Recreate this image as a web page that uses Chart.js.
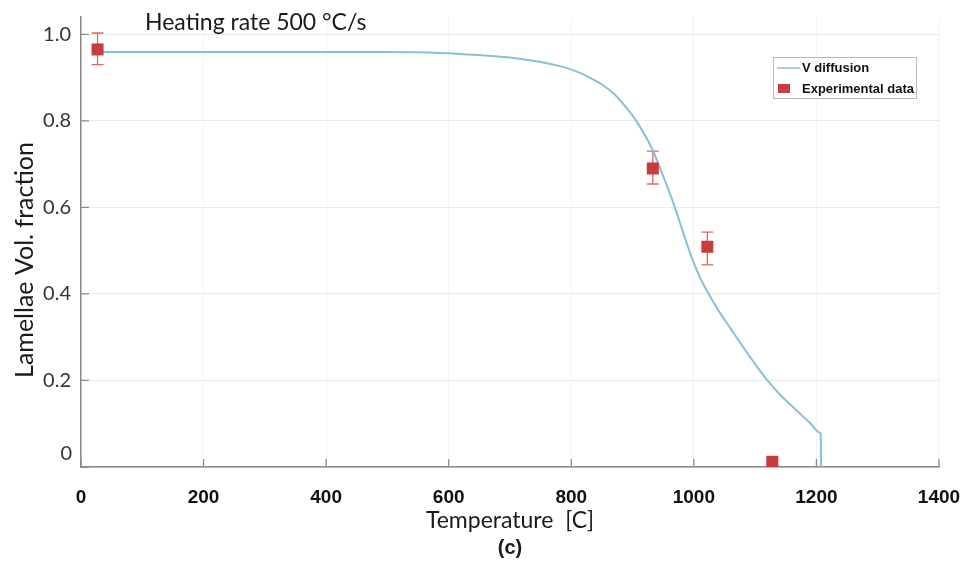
<!DOCTYPE html>
<html>
<head>
<meta charset="UTF-8">
<title>Lamellae Vol. fraction</title>
<script src="https://cdn.jsdelivr.net/npm/chart.js@4.4.1/dist/chart.umd.min.js"></script>
<style>
  html, body { margin: 0; padding: 0; background: #fff; }
  #wrap { width: 963px; height: 565px; position: relative; }
</style>
</head>
<body>
<div id="wrap"><canvas id="c"></canvas></div>
<script>
// model curve (V diffusion)
var curveT = [19, 200, 400, 500, 587, 650, 696, 750, 780, 805, 830, 850, 870, 890, 906, 933, 950, 969, 983, 996, 1010, 1025, 1040, 1059, 1080, 1100, 1119, 1140, 1168, 1190, 1206, 1207, 1207.5];
var curveF = [0.959, 0.959, 0.959, 0.959, 0.957, 0.952, 0.947, 0.936, 0.927, 0.916, 0.900, 0.884, 0.862, 0.830, 0.80, 0.732, 0.672, 0.60, 0.540, 0.486, 0.438, 0.398, 0.362, 0.322, 0.278, 0.238, 0.202, 0.168, 0.130, 0.101, 0.079, 0.0776, 0.0];

// experimental points + error bars
var expT    = [27, 933, 1022, 1128];
var expF    = [0.965, 0.69, 0.509, 0.012];
var expLow  = [0.93, 0.654, 0.467, 0.004];
var expHigh = [1.003, 0.73, 0.543, 0.016];

var xTicks = [0, 200, 400, 600, 800, 1000, 1200, 1400];
var yTicks = [0, 0.2, 0.4, 0.6, 0.8, 1.0];

var lineColor = '#88bfda';
var pointColor = '#c63d3d';
var errColor = '#e06565';
var axisColor = '#8a8a8a';
var textFont = 'Lato, "Open Sans", sans-serif';

var curveData = curveT.map(function (t, i) { return { x: t, y: curveF[i] }; });
var expData = expT.map(function (t, i) { return { x: t, y: expF[i] }; });

var extras = {
    id: 'extras',
    beforeDatasetsDraw: function (chart) {
        var ctx = chart.ctx, xs = chart.scales.x, ys = chart.scales.y;
        ctx.save();
        ctx.strokeStyle = errColor;
        ctx.lineWidth = 1.3;
        expT.forEach(function (t, i) {
            var px = xs.getPixelForValue(t);
            var lo = ys.getPixelForValue(expLow[i]);
            var hi = ys.getPixelForValue(expHigh[i]);
            ctx.beginPath();
            ctx.moveTo(px, lo); ctx.lineTo(px, hi);
            ctx.moveTo(px - 6, lo); ctx.lineTo(px + 6, lo);
            ctx.moveTo(px - 6, hi); ctx.lineTo(px + 6, hi);
            ctx.stroke();
        });
        ctx.restore();
    },
    afterDraw: function (chart) {
        var ctx = chart.ctx, xs = chart.scales.x, ys = chart.scales.y;
        var area = chart.chartArea;
        ctx.save();
        // inner tick marks
        ctx.strokeStyle = axisColor;
        ctx.lineWidth = 1.3;
        ctx.beginPath();
        xTicks.forEach(function (v) {
            var px = xs.getPixelForValue(v);
            ctx.moveTo(px, area.bottom); ctx.lineTo(px, area.bottom - 8);
        });
        yTicks.forEach(function (v) {
            var py = ys.getPixelForValue(v);
            ctx.moveTo(area.left, py); ctx.lineTo(area.left + 8, py);
        });
        ctx.stroke();

        // the "0" y label sits a little above its tick in the original
        ctx.fillStyle = '#333';
        ctx.font = '20px ' + textFont;
        ctx.textAlign = 'right';
        ctx.textBaseline = 'middle';
        ctx.fillText('0', area.left - 9, ys.getPixelForValue(0) - 13);

        // y axis title, a bit below centre as in the original
        ctx.save();
        ctx.translate(25, 260);
        ctx.rotate(-Math.PI / 2);
        ctx.textAlign = 'center';
        ctx.fillStyle = '#1a1a1a';
        ctx.font = '25px ' + textFont;
        ctx.fillText('Lamellae Vol. fraction', 0, 0);
        ctx.restore();

        // legend box
        ctx.fillStyle = '#fff';
        ctx.fillRect(773, 57, 143, 41);
        ctx.strokeStyle = '#b8b8b8';
        ctx.lineWidth = 1;
        ctx.strokeRect(773.5, 57.5, 143, 41);
        ctx.strokeStyle = lineColor;
        ctx.lineWidth = 1.5;
        ctx.beginPath(); ctx.moveTo(777, 68); ctx.lineTo(800, 68); ctx.stroke();
        ctx.fillStyle = pointColor;
        ctx.fillRect(778, 84, 12, 9);
        ctx.fillStyle = '#111';
        ctx.font = 'bold 13px "Liberation Sans", Arial, sans-serif';
        ctx.textAlign = 'left';
        ctx.fillText('V diffusion', 802, 68);
        ctx.fillText('Experimental data', 802, 89);

        // heading and panel label
        ctx.fillStyle = '#1a1a1a';
        ctx.font = '23px ' + textFont;
        ctx.fillText('Heating rate 500 \u00b0C/s', 145, 23);
        ctx.font = 'bold 20px "Liberation Sans", Arial, sans-serif';
        ctx.textAlign = 'center';
        ctx.fillText('(c)', 510, 548);
        ctx.restore();
    }
};

new Chart(document.getElementById('c'), {
    type: 'scatter',
    data: {
        datasets: [
            {
                type: 'line',
                label: 'V diffusion',
                data: curveData,
                borderColor: lineColor,
                borderWidth: 2,
                pointRadius: 0,
                fill: false,
                cubicInterpolationMode: 'monotone',
                order: 1
            },
            {
                label: 'Experimental data',
                data: expData,
                pointStyle: 'rect',
                pointRadius: 8.5,
                pointHoverRadius: 8.5,
                backgroundColor: pointColor,
                borderColor: pointColor,
                borderWidth: 0,
                order: 0
            }
        ]
    },
    options: {
        responsive: true,
        maintainAspectRatio: false,
        animation: false,
        layout: { padding: { top: 17, right: 24, bottom: 0, left: 0 } },
        plugins: {
            legend: { display: false },
            tooltip: { enabled: false }
        },
        scales: {
            x: {
                type: 'linear',
                min: 0,
                max: 1400,
                afterBuildTicks: function (scale) {
                    scale.ticks = xTicks.map(function (v) { return { value: v }; });
                },
                afterFit: function (scale) {
                    scale.height = 98;
                    scale.paddingLeft = 0;
                    scale.paddingRight = 0;
                },
                grid: { color: '#f3f3f3', drawTicks: false },
                border: { color: axisColor, width: 1.5 },
                ticks: {
                    padding: 19,
                    color: '#111',
                    font: { family: '"Liberation Sans", Arial, sans-serif', size: 19, weight: 'bold' },
                    maxRotation: 0,
                    callback: function (v) { return String(v); }
                },
                title: {
                    display: true,
                    text: 'Temperature  [C]',
                    color: '#1a1a1a',
                    font: { family: textFont, size: 23 },
                    padding: { top: 0, bottom: 31 }
                }
            },
            y: {
                type: 'linear',
                min: 0,
                max: 1.04,
                afterBuildTicks: function (scale) {
                    scale.ticks = yTicks.map(function (v) { return { value: v }; });
                },
                afterFit: function (scale) {
                    scale.width = 81;
                    scale.paddingTop = 0;
                    scale.paddingBottom = 0;
                },
                grid: { color: '#ebebeb', drawTicks: false },
                border: { color: axisColor, width: 1.5 },
                ticks: {
                    padding: 10,
                    color: '#333',
                    font: { family: textFont, size: 20 },
                    callback: function (v) { return v === 0 ? '' : v.toFixed(1); }
                },
                title: { display: false }
            }
        }
    },
    plugins: [extras]
});
</script>
</body>
</html>
